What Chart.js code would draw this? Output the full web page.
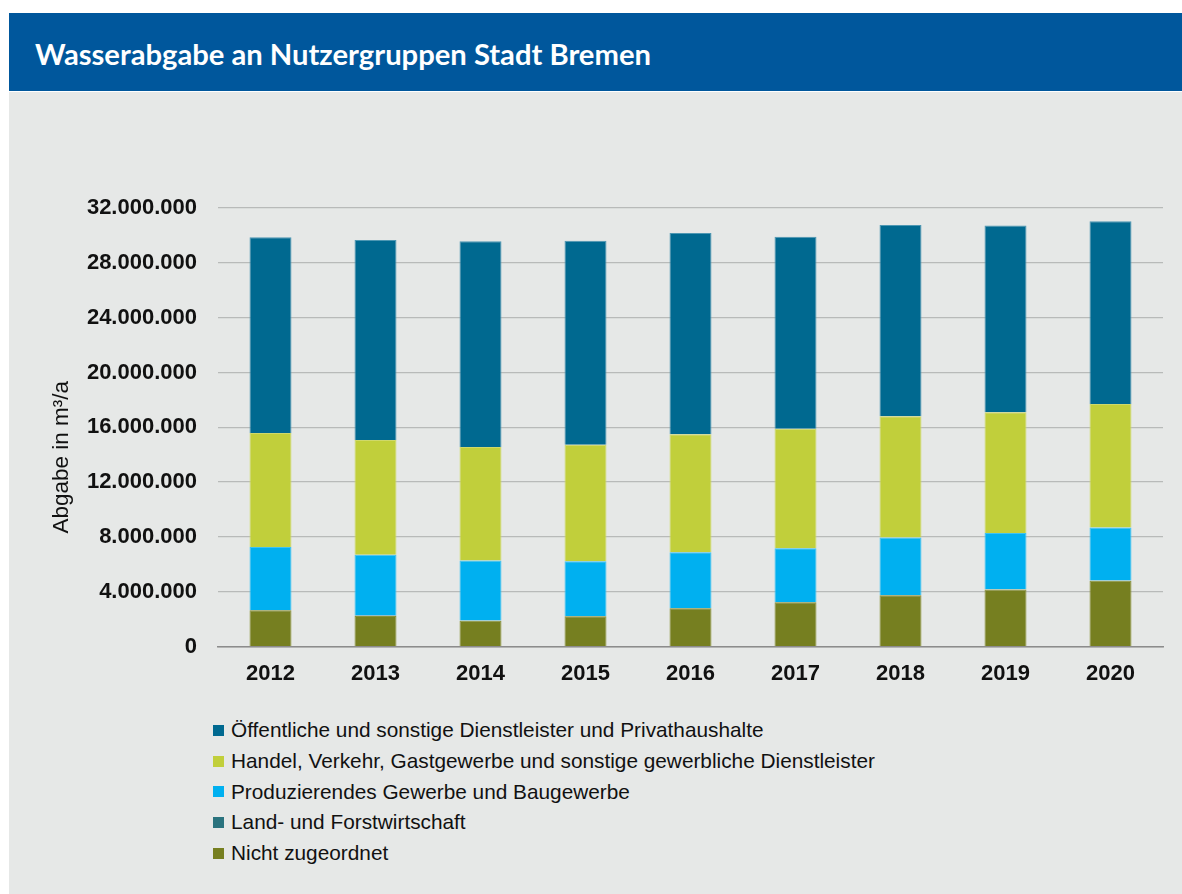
<!DOCTYPE html>
<html>
<head>
<meta charset="utf-8">
<script src="https://cdn.jsdelivr.net/npm/chart.js@4/dist/chart.umd.min.js"></script>
<style>
  body { margin: 0; background: #fff; width: 1182px; height: 894px; position: relative; overflow: hidden; }
  #header { position: absolute; left: 9px; top: 13px; width: 1173px; height: 78px; background: #00579c; }
  #header h1 { margin: 0; position: absolute; left: 26px; top: 23px; color: #fff; font-family: Lato, sans-serif; font-weight: 700; font-size: 29.2px; }
  #panel { position: absolute; left: 9px; top: 92px; width: 1173px; height: 802px; background: #e6e8e7; }
  #box { position: absolute; left: 0; top: 0; width: 1173px; height: 619px; }
  #legend { position: absolute; left: 204px; top: 623px; font-family: "Liberation Sans", Arial, sans-serif; font-size: 20.8px; color: #111; }
  #legend div { height: 30.7px; display: flex; align-items: center; }
  #legend span.sq { display: inline-block; width: 11px; height: 11px; margin-right: 7px; }
</style>
</head>
<body>
<div id="header"><h1>Wasserabgabe an Nutzergruppen Stadt Bremen</h1></div>
<div id="panel">
  <div id="box"><canvas id="myChart"></canvas></div>
  <div id="legend"></div>
</div>
<script>
// Jahre
const years = ["2012", "2013", "2014", "2015", "2016", "2017", "2018", "2019", "2020"];

// Abgabe in m3/a, von unten nach oben gestapelt
const nichtZugeordnet = [2650000, 2240000, 1880000, 2220000, 2800000, 3240000, 3750000, 4160000, 4800000];
const landForst = [20000, 20000, 20000, 20000, 20000, 20000, 20000, 20000, 20000];
const produzierend = [4590000, 4440000, 4380000, 3990000, 4070000, 3920000, 4190000, 4100000, 3870000];
const handel = [8320000, 8370000, 8280000, 8500000, 8600000, 8720000, 8840000, 8820000, 9010000];
const oeffentlich = [14280000, 14590000, 15010000, 14880000, 14680000, 14000000, 13960000, 13630000, 13330000];

const yTicks = [0, 4000000, 8000000, 12000000, 16000000, 20000000, 24000000, 28000000, 32000000];
const yTitle = "Abgabe in m³/a";

function formatDE(v) {
  return String(v).replace(/\B(?=(\d{3})+(?!\d))/g, ".");
}

// Achsentitel etwas unterhalb der Mitte, wie im Original
const yTitlePlugin = {
  id: "yTitle",
  afterDraw: function (chart) {
    let c = chart.ctx;
    let y = chart.scales.y;
    c.save();
    c.translate(53, (y.top + y.bottom) / 2 + 30);
    c.rotate(-Math.PI / 2);
    c.textAlign = "center";
    c.textBaseline = "middle";
    c.fillStyle = "#111";
    c.font = "22.5px 'Liberation Sans', Arial, sans-serif";
    c.fillText(yTitle, 0, 0);
    c.restore();
  }
};

let dataforchart = {
  labels: years,
  datasets: [{
    label: "Nicht zugeordnet",
    data: nichtZugeordnet,
    backgroundColor: "#767f20",
    borderColor: "#8a9238"
  }, {
    label: "Land- und Forstwirtschaft",
    data: landForst,
    backgroundColor: "#2a737e",
    borderColor: "#2a737e"
  }, {
    label: "Produzierendes Gewerbe und Baugewerbe",
    data: produzierend,
    backgroundColor: "#00b0f0",
    borderColor: "#3fc2f2"
  }, {
    label: "Handel, Verkehr, Gastgewerbe und sonstige gewerbliche Dienstleister",
    data: handel,
    backgroundColor: "#c1cf3b",
    borderColor: "#cfd96a"
  }, {
    label: "Öffentliche und sonstige Dienstleister und Privathaushalte",
    data: oeffentlich,
    backgroundColor: "#006990",
    borderColor: "#4d97b3"
  }]
};

let options = {
  responsive: true,
  maintainAspectRatio: false,
  animation: false,
  layout: { padding: { left: 0, top: 116, right: 19, bottom: 18 } },
  datasets: {
    bar: { categoryPercentage: 1, barPercentage: 0.4, borderWidth: 1 }
  },
  plugins: {
    legend: { display: false },
    tooltip: { enabled: false }
  },
  scales: {
    x: {
      stacked: true,
      grid: { display: false },
      border: { color: "#8c8c8c", width: 1.5 },
      ticks: {
        color: "#111",
        padding: 6,
        font: { family: "'Liberation Sans', Arial, sans-serif", size: 22, weight: "bold" }
      }
    },
    y: {
      stacked: true,
      min: 0,
      max: 32000000,
      afterBuildTicks: function (scale) {
        scale.ticks = yTicks.map(v => ({ value: v }));
      },
      afterFit: function (scale) {
        scale.width = 209;
      },
      border: { display: false },
      grid: {
        drawTicks: false,
        color: "#b8bab9",
        lineWidth: 1.3
      },
      ticks: {
        color: "#111",
        padding: 21,
        font: { family: "'Liberation Sans', Arial, sans-serif", size: 22, weight: "bold" },
        callback: function (v) { return formatDE(v); }
      }
    }
  }
};

let ctx = document.getElementById("myChart");
let chart1 = new Chart(ctx, {
  type: "bar",
  data: dataforchart,
  options: options,
  plugins: [yTitlePlugin]
});

// Legende (obere Reihe zuerst)
let legendBox = document.getElementById("legend");
let items = Chart.defaults.plugins.legend.labels.generateLabels(chart1).reverse();
items.forEach(function (item) {
  let row = document.createElement("div");
  let sq = document.createElement("span");
  sq.className = "sq";
  sq.style.background = item.fillStyle;
  row.appendChild(sq);
  row.appendChild(document.createTextNode(item.text));
  legendBox.appendChild(row);
});
</script>
</body>
</html>
